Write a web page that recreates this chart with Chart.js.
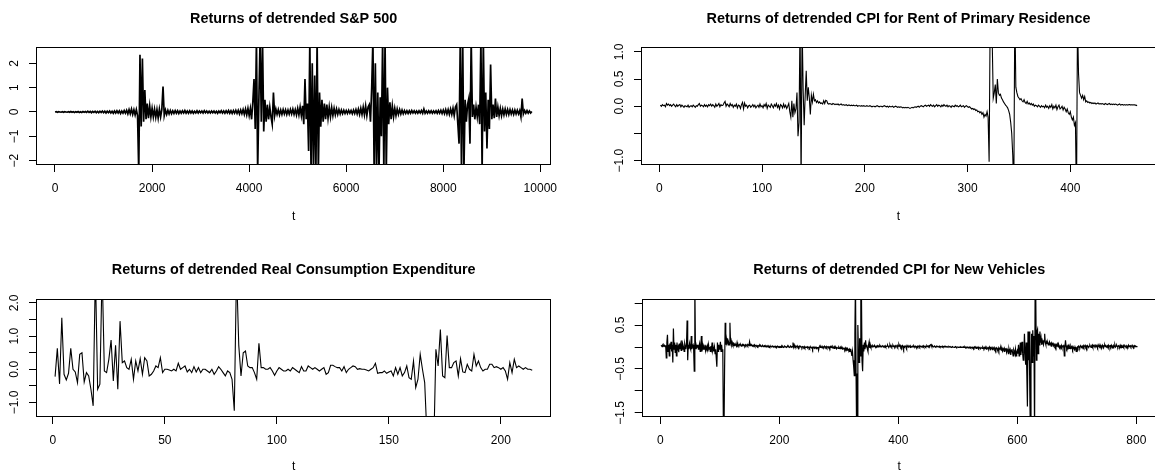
<!DOCTYPE html>
<html><head><meta charset="utf-8">
<script src="https://cdn.jsdelivr.net/npm/chart.js@4.4.1/dist/chart.umd.min.js"></script>
<style>
html,body{margin:0;padding:0;background:#fff;overflow:hidden;width:1155px;height:474px;position:relative;}
canvas{position:absolute;}
</style></head><body>
<canvas id="c1" width="580" height="237" style="left:0px;top:0px"></canvas>
<canvas id="c2" width="620" height="237" style="left:580px;top:0px"></canvas>
<canvas id="c3" width="580" height="237" style="left:0px;top:237px"></canvas>
<canvas id="c4" width="620" height="237" style="left:580px;top:237px"></canvas>
<script>
const FONT = "'Liberation Sans', Arial, Helvetica, sans-serif";

// ---------- DATA ----------
// S&P 500 returns, sampled every 25 steps starting at t = 1
const spStep = 25;
const spReturns = [
0.0,0.01,-0.01,0.01,0.0,-0.01,0.01,-0.01,0.01,0.0,
-0.01,0.01,-0.01,0.02,-0.01,0.01,-0.02,0.01,-0.01,0.02,
-0.02,0.01,-0.02,0.02,-0.01,0.02,-0.02,0.03,-0.02,0.02,
-0.03,0.02,-0.02,0.03,-0.03,0.02,-0.03,0.03,-0.02,0.04,
-0.03,0.03,-0.04,0.03,-0.03,0.04,-0.04,0.03,-0.05,0.04,
-0.04,0.05,-0.04,0.05,-0.06,0.04,-0.05,0.06,-0.05,0.07,
-0.08,0.1,-0.07,0.12,-0.1,0.09,-0.12,0.1,-0.15,
-2.5,2.35,-0.6,2.2,-0.4,0.9,-0.3,0.35,-0.25,0.25,-0.2,0.15,-0.2,0.12,-0.22,0.1,-0.25,0.12,-0.2,0.1,1.05,-0.15,
0.08,-0.1,0.07,-0.08,0.06,-0.07,0.05,-0.06,0.06,-0.05,
0.05,-0.06,0.04,-0.05,0.05,-0.04,0.06,-0.05,0.04,-0.05,
0.05,-0.04,0.04,-0.05,0.03,-0.04,0.05,-0.04,0.04,-0.03,
0.04,-0.04,0.05,-0.03,0.04,-0.04,0.03,-0.04,0.04,-0.03,
0.04,-0.04,0.03,-0.05,0.04,-0.03,0.05,-0.04,0.04,-0.05,
0.05,-0.04,0.06,-0.05,0.05,-0.06,0.06,-0.05,0.07,-0.06,
0.07,-0.08,0.08,-0.07,0.1,
-0.1,0.12,-0.12,0.15,-0.15,
0.15,-0.3,0.4,1.35,-0.7,3.0,-2.5,0.5,3.0,-0.4,3.0,-0.8,0.5,-0.4,0.3,-0.3,0.2,-0.2,-0.5,0.8,-0.15,
0.12,-0.1,0.1,-0.12,0.08,-0.1,0.1,-0.08,0.09,-0.1,0.08,-0.09,0.1,-0.08,0.12,-0.1,0.1,-0.12,0.15,-0.12,0.2,-0.15,0.25,
-0.5,1.35,-0.3,0.35,
-1.6,3.0,-2.5,2.0,-2.5,1.5,-2.5,3.0,-2.5,0.8,-0.6,
0.5,-0.4,0.35,-0.3,0.3,-0.25,0.2,-0.2,0.18,-0.15,0.15,-0.12,0.12,-0.1,0.1,-0.08,0.08,-0.07,0.07,-0.06,0.06,
-0.06,0.07,-0.05,0.06,-0.07,0.08,-0.06,0.1,-0.08,0.12,-0.1,0.15,-0.1,0.2,-0.12,0.25,-0.15,0.2,
0.3,-0.4,1.0,3.0,-2.5,2.0,-2.5,0.8,-2.5,0.6,-1.0,3.0,-2.5,3.0,-2.5,1.0,-0.5,0.4,-0.3,0.25,-0.2,
0.15,-0.15,0.12,-0.1,0.1,-0.08,0.08,-0.07,0.06,-0.06,
0.05,-0.06,0.05,-0.05,0.06,-0.04,0.05,-0.05,0.04,-0.05,
0.05,-0.04,0.06,-0.05,0.12,-0.05,0.04,-0.05,0.05,-0.04,
0.05,-0.05,0.04,-0.04,0.05,-0.05,0.06,-0.05,0.07,-0.06,
0.08,-0.07,0.1,-0.08,0.1,-0.1,0.12,-0.1,0.15,
-0.15,0.2,
0.3,-0.5,-1.3,3.0,-2.5,3.0,-2.5,0.5,-0.4,0.3,0.55,-1.3,3.0,-0.2,0.3,-0.3,0.2,-0.2,0.3,-0.5,3.0,-2.5,3.0,-0.8,0.8,-1.5,0.5,-0.7,1.95,-0.3,0.3,-0.25,0.55,-0.2,
0.2,-0.15,0.15,-0.15,0.12,-0.12,0.12,-0.1,0.1,-0.1,0.1,-0.08,0.08,-0.1,0.08,-0.08,0.07,-0.08,0.06,
-0.2,0.55,-0.08,0.06,-0.05,0.06,-0.05,0.04,-0.04,0.02
];

// CPI Rent of Primary Residence returns, t = 1..465
const rentReturns = [
0.02,0.0,0.03,0.01,0.02,-0.01,0.05,0.02,0.04,0.01,
0.03,0.0,0.02,0.04,0.01,-0.01,0.03,0.0,0.02,0.03,
-0.01,0.02,0.0,-0.02,0.01,0.0,-0.01,0.02,-0.02,0.0,
0.01,-0.01,0.02,0.0,-0.02,0.01,0.0,0.03,0.05,0.0,
0.02,0.01,-0.01,0.03,0.0,0.02,-0.01,0.03,0.01,0.04,
0.0,0.03,0.01,-0.02,0.04,0.0,0.02,0.05,-0.01,0.03,
0.01,0.02,0.06,0.09,0.0,0.04,0.02,-0.01,0.05,0.01,
0.03,-0.02,0.02,0.0,0.04,-0.03,0.02,0.01,-0.04,0.03,
0.07,-0.05,0.06,0.0,0.02,-0.03,0.01,0.02,-0.02,0.0,
0.03,-0.01,0.02,-0.03,0.0,0.02,-0.02,0.04,-0.01,0.01,
-0.03,0.03,0.0,0.05,-0.04,0.02,0.0,-0.02,0.04,0.01,
-0.03,0.03,0.0,0.05,-0.02,0.02,-0.05,0.03,0.01,-0.03,
0.04,-0.02,0.02,-0.04,0.0,0.05,-0.1,-0.2,0.1,-0.2,
0.05,-0.12,-0.05,0.25,-0.55,-0.3,1.6,-1.5,1.5,0.3,-0.35,0.2,0.65,0.1,0.35,0.15,-0.15,0.2,0.08,0.22,0.1,0.12,0.07,0.1,0.06,0.08,0.05,0.06,0.04,0.1,0.05,0.11,0.1,0.05,0.04,
0.05,0.04,0.03,0.05,0.04,0.03,0.04,0.03,0.04,0.02,0.03,0.04,0.02,0.03,0.02,
0.02,0.03,0.01,0.02,0.02,0.01,0.02,0.01,0.02,0.01,0.01,0.02,0.0,0.01,0.01,0.0,0.01,0.0,0.01,0.0,
0.0,0.01,0.0,0.0,0.01,0.0,-0.01,0.0,0.0,-0.01,0.0,0.01,0.0,-0.01,0.0,0.0,-0.01,0.0,0.01,0.0,
-0.01,0.0,-0.02,0.0,-0.01,-0.01,0.0,-0.02,-0.01,0.0,-0.01,-0.02,-0.01,-0.02,-0.01,-0.02,-0.03,-0.02,-0.03,-0.02,
-0.03,-0.02,-0.03,-0.04,-0.03,-0.02,-0.03,-0.02,-0.01,-0.02,-0.01,0.0,-0.02,0.0,0.01,0.0,-0.01,0.01,0.02,0.0,
0.01,0.02,0.0,0.03,0.01,0.0,0.02,-0.01,0.01,0.03,0.0,0.02,0.01,-0.01,0.02,0.0,0.03,0.01,0.0,0.02,
-0.01,0.01,0.0,-0.02,0.01,0.0,-0.01,0.02,0.0,0.01,-0.01,0.0,0.02,-0.01,0.0,0.01,-0.02,0.0,0.01,-0.01,
-0.02,-0.01,-0.03,-0.05,-0.04,-0.06,-0.05,-0.08,-0.07,-0.1,-0.09,-0.12,-0.1,-0.15,-0.12,-0.2,-0.15,-0.18,-0.1,-0.2,
-1.02,1.6,1.4,1.2,0.15,0.25,0.4,0.05,0.5,0.25,0.2,0.22,0.15,0.12,0.08,0.05,0.02,0.0,-0.03,-0.08,
-0.15,-0.3,-0.5,-0.9,-1.6,1.8,0.35,0.25,0.18,0.15,0.12,0.14,0.1,0.08,0.12,0.07,0.05,0.09,0.04,0.06,
0.03,0.05,0.02,0.04,0.0,0.02,0.01,-0.01,0.02,0.0,-0.02,0.01,-0.01,0.0,-0.03,0.02,-0.02,0.0,-0.04,0.01,
-0.02,0.03,-0.05,0.0,-0.03,0.02,-0.06,-0.01,0.02,-0.05,-0.03,0.0,-0.07,-0.02,-0.05,
-0.1,-0.05,-0.12,-0.15,-0.1,-0.2,-0.25,-0.2,-0.35,-0.3,
-1.8,1.6,0.6,0.25,0.2,0.15,0.2,0.12,0.18,0.08,0.1,0.07,0.08,
0.06,0.07,0.05,0.06,0.05,0.06,0.04,0.05,0.06,0.04,0.05,0.04,0.05,0.04,0.03,0.05,0.04,0.03,0.04,0.05,0.03,0.04,
0.03,0.04,0.03,0.04,0.03,0.02,0.03,0.04,0.02,0.03,0.03,0.02,0.03,0.02,0.03,0.02,0.03,0.03,0.02,0.03,0.02,0.03,0.02,0.02,0.01
];

// Real Consumption Expenditure returns, t = 1..214
const pceReturns = [
-0.22,0.63,-0.44,1.55,-0.15,-0.32,-0.12,0.63,0.0,-0.08,
-0.4,0.45,0.5,-0.38,-0.1,-0.2,-0.6,-1.1,3.0,-0.6,
-0.45,3.0,-0.05,-0.1,0.3,0.88,-0.35,0.72,-0.6,1.45,
0.2,0.25,0.05,0.0,0.3,-0.3,0.25,-0.05,0.32,-0.15,
0.35,0.25,-0.2,-0.15,-0.05,0.1,0.05,0.35,-0.1,0.0,
0.0,-0.02,-0.05,0.0,-0.05,0.18,0.0,0.05,0.1,-0.08,
0.0,-0.1,0.08,-0.08,0.05,-0.1,0.0,0.0,-0.05,-0.1,
0.0,-0.15,-0.05,0.08,0.0,-0.1,-0.2,-0.05,-0.1,-0.3,
-1.25,3.0,0.72,-0.2,0.5,0.55,0.1,0.05,0.05,-0.1,
-0.3,0.78,0.05,0.05,0.0,0.0,0.05,-0.05,-0.18,-0.05,
0.05,0.0,-0.05,-0.05,0.0,-0.05,0.05,0.0,-0.05,-0.1,
0.08,-0.05,-0.05,0.1,0.05,0.0,0.05,0.0,-0.05,0.0,
0.05,-0.15,-0.1,0.12,0.12,0.08,0.05,0.05,-0.05,0.08,
-0.1,0.0,0.05,0.1,0.08,0.0,0.02,0.0,0.0,-0.02,
-0.05,0.0,0.05,
0.18,-0.12,
-0.1,-0.1,-0.05,-0.12,-0.08,-0.05,-0.2,0.05,-0.15,0.05,-0.2,-0.1,0.1,-0.25,
-0.3,0.25,-0.55,-0.3,0.45,0.0,-0.4,-2.0,-3.0,-2.5,-2.5,0.6,0.1,1.2,-0.2,-0.25,1.02,0.05,0.05,0.2,0.25,-0.2,0.32,-0.08,-0.1,0.15,0.0,-0.05,0.45,0.1,0.25,
0.05,-0.05,0.0,0.0,0.15,0.15,0.05,0.08,0.05,0.0,
0.05,-0.05,-0.3,0.2,-0.1,0.3,0.05,0.1,0.05,0.0,
0.05,0.0,0.0,-0.03
];

// CPI New Vehicles returns, t = 1..801
const vehReturns = [
0.02,0.03,0.01,0.04,0.02,0.05,0.03,0.01,0.04,
-0.25,0.1,0.28,-0.1,0.05,-0.2,0.08,-0.05,0.12,-0.1,
0.05,-0.35,0.42,-0.05,0.1,-0.12,0.05,-0.2,0.1,-0.05,
0.0,-0.12,0.08,-0.05,0.05,-0.08,0.15,-0.05,0.05,0.0,
-0.1,0.08,0.02,-0.05,0.05,0.6,-0.3,0.05,-0.05,0.08,
0.0,-0.05,0.25,-0.05,0.02,0.05,-0.05,-0.55,1.5,-0.05,
0.05,-0.02,0.0,0.05,-0.05,0.02,0.08,-0.1,0.0,0.25,
-0.1,0.05,-0.05,0.0,-0.05,0.05,-0.08,0.0,-0.05,0.02,
-0.1,0.05,-0.05,0.0,-0.1,0.02,-0.05,0.1,-0.08,-0.02,
-0.1,0.0,-0.15,-0.05,-0.25,-0.45,0.1,-0.1,0.05,-0.05,
0.0,0.12,-0.1,0.05,-0.1,-0.05,-1.8,-2.0,-0.5,0.55,
0.05,0.2,0.1,0.15,0.05,0.1,0.05,0.55,0.1,0.15,
0.05,0.1,0.05,0.08,0.03,0.06,0.04,0.05,0.02,0.1,
0.03,
0.05,0.03,0.06,0.04,0.05,0.02,0.04,0.06,0.03,0.05,0.04,0.02,0.05,0.03,0.04,0.06,0.03,0.05,0.04,
0.12,0.03,
0.05,0.03,0.04,0.02,0.04,0.03,0.05,0.02,0.03,0.04,
0.02,0.03,0.01,0.03,0.02,0.04,0.02,0.03,0.01,0.02,
0.03,0.01,0.02,0.03,0.01,0.02,0.0,0.02,0.01,0.03,
0.01,0.02,0.0,0.01,0.02,0.0,0.01,0.02,0.01,0.0,
0.01,0.02,0.0,0.01,0.0,0.02,0.01,0.0,0.01,
0.0,0.01,-0.01,0.02,0.0,0.01,-0.01,0.0,0.02,0.01,0.0,-0.01,0.01,0.02,0.0,0.01,-0.01,0.0,0.02,0.01,0.0,0.01,
0.1,0.0,0.05,
0.01,0.02,0.0,0.01,0.03,0.0,0.01,-0.01,0.02,0.0,
0.01,0.0,-0.02,0.01,0.0,-0.01,0.01,-0.02,0.0,-0.01,
0.0,0.01,-0.02,-0.01,0.0,-0.03,-0.01,0.0,-0.02,-0.01,
-0.05,0.0,
-0.01,-0.03,0.0,-0.02,-0.04,-0.01,-0.02,0.0,
-0.07,
0.0,0.01,-0.01,0.02,0.0,-0.02,0.01,0.0,-0.01,0.02,
0.0,-0.01,0.01,-0.02,0.0,0.01,-0.01,0.0,-0.03,0.01,
-0.01,0.0,-0.02,0.01,-0.01,-0.03,0.0,-0.02,-0.01,-0.04,
-0.01,-0.02,-0.03,0.0,-0.02,-0.04,-0.01,-0.03,-0.02,-0.05,
-0.02,-0.04,-0.03,-0.06,-0.02,-0.05,-0.03,-0.07,-0.04,-0.06,
-0.08,-0.05,
-0.1,-0.04,-0.12,-0.2,-0.1,-0.3,-0.45,-0.65,0.3,1.5,-0.6,-2.0,-1.9,0.5,-0.1,-0.35,0.2,-0.2,1.5,1.3,-0.3,-0.55,0.05,-0.1,0.1,-0.05,0.15,0.0,0.05,-0.05,-0.1,0.05,0.12,-0.02,0.05,0.0,
0.02,0.0,0.03,0.01,0.02,0.04,0.01,0.0,0.02,0.01,
0.03,0.0,0.02,0.01,0.04,0.02,0.0,0.01,0.03,0.02,
0.0,0.02,0.01,0.03,0.0,0.01,0.02,0.04,0.01,0.0,
0.02,0.05,0.01,0.03,0.0,0.02,0.04,0.01,0.02,0.0,
0.03,0.01,0.02,0.04,0.0,0.02,
0.06,0.02,
0.04,0.0,0.02,-0.01,0.03,0.01,-0.04,0.02,0.0,0.01,
0.03,-0.02,0.01,0.02,0.0,0.03,0.01,-0.01,0.02,0.0,
0.01,0.02,0.0,0.03,0.01,0.0,0.02,0.01,-0.01,0.02,
0.0,0.01,0.03,0.0,0.02,0.01,0.0,0.02,0.01,0.03,
0.0,0.01,0.02,0.0,0.01,0.03,0.01,0.02,
0.01,0.03,0.02,0.05,0.06,0.02,0.01,0.02,0.0,0.01,
0.02,0.01,0.0,0.01,0.02,0.01,0.0,0.01,0.02,0.0,
0.01,0.0,0.01,0.02,0.0,0.01,0.0,0.01,0.0,0.01,
0.0,0.01,0.0,0.0,0.01,0.0,0.01,0.0,-0.01,0.0,
0.01,0.0,0.0,-0.01,0.0,0.01,0.0,-0.01,0.0,0.0,
-0.01,0.0,0.0,-0.01,0.0,-0.01,0.0,0.0,-0.01,0.0,
-0.01,0.0,-0.02,0.0,-0.01,0.0,-0.01,-0.02,0.0,-0.01,
0.0,-0.02,-0.01,0.0,-0.02,-0.01,-0.03,0.0,-0.02,-0.01,
-0.03,-0.01,-0.02,0.0,-0.03,-0.01,-0.02,-0.04,-0.01,-0.02,
-0.03,0.0,-0.02,-0.04,-0.01,-0.03,-0.02,-0.05,-0.01,-0.03,
-0.02,-0.04,0.0,-0.03,-0.05,-0.01,-0.03,-0.06,-0.02,-0.04,
-0.01,-0.05,-0.03,-0.07,-0.02,-0.04,-0.06,-0.02,-0.08,-0.03,
-0.05,-0.02,-0.07,-0.04,-0.09,-0.03,-0.06,-0.1,-0.04,-0.07,
-0.03,-0.12,-0.05,-0.08,-0.15,-0.04,-0.1,-0.06,-0.18,-0.08,
-0.05,-0.12,-0.2,-0.06,-0.1,-0.15,-0.05,-0.2,-0.12,-0.08,
-0.15,0.05,-0.2,-0.1,0.1,-0.18,-0.05,0.12,-0.15,-0.3,
-0.2,0.3,-0.1,-0.4,0.1,-0.6,-1.35,0.35,-0.3,0.35,
-1.0,-2.0,-0.5,0.3,-0.35,0.38,-0.2,0.25,-2.0,1.5,
1.2,-0.3,0.35,0.4,-0.15,0.3,0.05,0.35,0.1,0.2,
0.05,0.15,0.1,0.05,0.15,0.3,0.1,0.05,0.12,0.08,
0.1,0.05,0.08,0.12,0.05,0.1,0.02,0.08,0.05,0.1,
0.03,0.06,0.02,0.05,0.0,0.05,0.02,0.1,0.0,0.03,
-0.02,0.02,0.0,0.04,-0.01,0.02,0.0,0.05,-0.2,0.0,
0.15,0.02,-0.03,0.02,-0.01,0.03,-0.03,0.0,-0.04,0.02,
-0.02,0.01,-0.05,0.0,-0.03,-0.06,0.0,-0.04,-0.1,-0.02,
0.0,-0.03,0.02,0.0,-0.02,0.03,0.01,-0.01,0.02,0.0,
0.03,-0.01,0.02,0.04,0.0,0.02,-0.02,0.03,0.01,0.0,
0.02,0.04,0.01,-0.01,0.03,0.05,0.0,0.02,0.04,0.01,
0.0,0.03,0.01,0.04,-0.01,0.02,0.03,0.0,0.05,0.01,
0.02,0.0,0.04,0.01,-0.02,0.03,0.05,0.01,0.02,0.0,
0.03,0.01,0.04,-0.01,0.02,0.03,0.0,0.04,0.01,0.02,
-0.02,0.03,0.01,0.05,0.0,0.02,0.04,0.01,-0.01,0.03,
0.02,0.0,0.04,0.01,0.03,-0.01,0.02,0.04,0.0,0.02,
0.03,0.01,-0.02,0.03,0.02,0.0,0.04,0.01,0.02,0.03,
0.0,0.02,0.04,0.01,0.02,0.0,0.03,0.01,0.02,0.01,0.02
];

// ---------- AXIS TICKS ----------
const spXTicks = [0, 2000, 4000, 6000, 8000, 10000];
const spXLabels = ['0', '2000', '4000', '6000', '8000', '10000'];
const spYTicks = [-2, -1, 0, 1, 2];
const spYLabels = ['\u22122', '\u22121', '0', '1', '2'];

const rentXTicks = [0, 100, 200, 300, 400];
const rentXLabels = ['0', '100', '200', '300', '400'];
const rentYTicks = [-1, -0.5, 0, 0.5, 1];
const rentYLabels = ['\u22121.0', '', '0.0', '0.5', '1.0'];

const pceXTicks = [0, 50, 100, 150, 200];
const pceXLabels = ['0', '50', '100', '150', '200'];
const pceYTicks = [-1, -0.5, 0, 0.5, 1, 1.5, 2];
const pceYLabels = ['\u22121.0', '', '0.0', '', '1.0', '', '2.0'];

const vehXTicks = [0, 200, 400, 600, 800];
const vehXLabels = ['0', '200', '400', '600', '800'];
const vehYTicks = [-1.5, -1, -0.5, 0, 0.5, 1];
const vehYLabels = ['\u22121.5', '', '\u22120.5', '', '0.5', ''];

// ---------- CHART BUILDING ----------
const boxPlugin = {
  id: 'rbox',
  afterDraw(chart) {
    const {ctx, chartArea: a} = chart;
    ctx.save();
    ctx.strokeStyle = '#000';
    ctx.lineWidth = 1;
    const l = Math.round(a.left) + 0.5, t = Math.round(a.top) + 0.5;
    const r = Math.round(a.right) - 0.5, b = Math.round(a.bottom) - 0.5;
    ctx.strokeRect(l, t, r - l, b - t);
    ctx.restore();
  }
};

function makePanel(id, c) {
  const pts = c.y.map((v, i) => ({x: c.t[i], y: v}));
  new Chart(document.getElementById(id), {
    type: 'line',
    data: {datasets: [{data: pts, borderColor: '#000', borderWidth: c.lw, pointRadius: 0,
      tension: 0, fill: false, clip: 0, spanGaps: true}]},
    options: {
      responsive: false, animation: false, events: [],
      layout: {padding: {left: 0, top: 0, right: c.padRight, bottom: 0}},
      plugins: {
        legend: {display: false}, tooltip: {enabled: false},
        title: {display: true, text: c.title, fullSize: false, color: '#000',
          font: {family: FONT, size: 14.4, weight: 'bold', lineHeight: 1.2},
          padding: {top: c.titleTop, bottom: c.titleBottom}}
      },
      scales: {
        x: {
          type: 'linear', position: 'bottom', min: c.xMin, max: c.xMax, bounds: 'data',
          afterBuildTicks: s => { s.ticks = c.xTicks.map(v => ({value: v})); },
          afterFit: s => { s.height = c.xAxisH; s.paddingLeft = 0; s.paddingRight = 0; },
          ticks: {autoSkip: false, minRotation: 0, maxRotation: 0, padding: 9, color: '#000',
            font: {family: FONT, size: 12}, callback: (v, i) => c.xLabels[i]},
          grid: {drawOnChartArea: false, drawTicks: true, tickLength: 7, color: '#000', lineWidth: 1},
          border: {display: false},
          title: {display: true, text: 't', color: '#000', font: {family: FONT, size: 12},
            padding: {top: 0, bottom: c.tPad}}
        },
        y: {
          type: 'linear', position: 'left', min: c.yMin, max: c.yMax, bounds: 'data',
          afterBuildTicks: s => { s.ticks = c.yTicks.map(v => ({value: v})); },
          afterFit: s => { s.width = c.yAxisW; s.paddingTop = 0; s.paddingBottom = 0; },
          ticks: {autoSkip: false, minRotation: 90, maxRotation: 90, crossAlign: 'center',
            padding: c.yPad, color: '#000', font: {family: FONT, size: 12},
            callback: (v, i) => c.yLabels[i]},
          grid: {drawOnChartArea: false, drawTicks: true, tickLength: 7, color: '#000', lineWidth: 1},
          border: {display: false}
        }
      }
    },
    plugins: [boxPlugin]
  });
}

const topPanel = {titleTop: 10.06, titleBottom: 19.96, xAxisH: 72, tPad: 13.1};
const botPanel = {titleTop: 24.66, titleBottom: 20.06, xAxisH: 57, tPad: 0};

makePanel('c1', Object.assign({}, topPanel, {
  title: 'Returns of detrended S&P 500', lw: 1.7,
  t: spReturns.map((_, i) => 1 + spStep * i), y: spReturns,
  xMin: -391.5, xMax: 10226.6, yMin: -2.177, yMax: 2.657,
  xTicks: spXTicks, xLabels: spXLabels, yTicks: spYTicks, yLabels: spYLabels,
  yAxisW: 36, padRight: 28.7, yPad: 7.45
}));
makePanel('c2', Object.assign({}, topPanel, {
  title: 'Returns of detrended CPI for Rent of Primary Residence', lw: 1.1,
  t: rentReturns.map((_, i) => i + 1), y: rentReturns,
  xMin: -17.8, xMax: 483.4, yMin: -1.08, yMax: 1.083,
  xTicks: rentXTicks, xLabels: rentXLabels, yTicks: rentYTicks, yLabels: rentYLabels,
  yAxisW: 61, padRight: 44, yPad: 2.45
}));
makePanel('c3', Object.assign({}, botPanel, {
  title: 'Returns of detrended Real Consumption Expenditure', lw: 1.1,
  t: pceReturns.map((_, i) => i + 1), y: pceReturns,
  xMin: -7.52, xMax: 222.52, yMin: -1.437, yMax: 2.117,
  xTicks: pceXTicks, xLabels: pceXLabels, yTicks: pceYTicks, yLabels: pceYLabels,
  yAxisW: 36, padRight: 28.7, yPad: 2.45
}));
makePanel('c4', Object.assign({}, botPanel, {
  title: 'Returns of detrended CPI for New Vehicles', lw: 1.2,
  t: vehReturns.map((_, i) => i + 1), y: vehReturns,
  xMin: -31.3, xMax: 834.3, yMin: -1.591, yMax: 1.091,
  xTicks: vehXTicks, xLabels: vehXLabels, yTicks: vehYTicks, yLabels: vehYLabels,
  yAxisW: 61.7, padRight: 43.3, yPad: 2.45
}));
</script>
</body></html>
